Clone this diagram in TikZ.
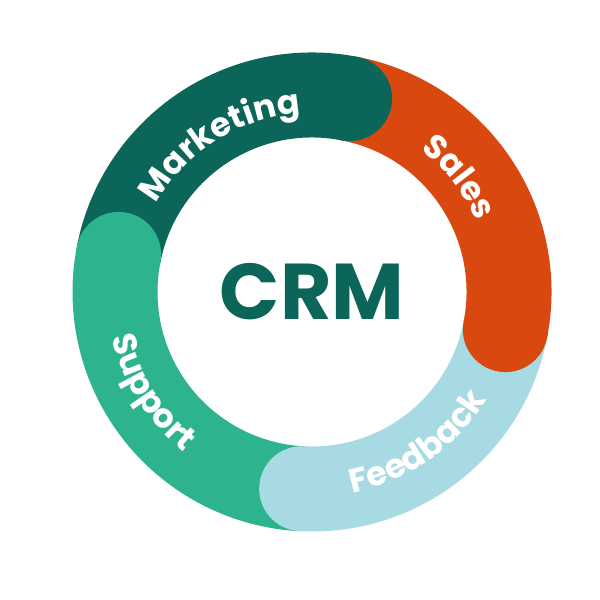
\documentclass[tikz,border=0pt]{standalone}
\usepackage{fontspec}
\setmainfont{Poppins}
\usetikzlibrary{decorations.text}
\definecolor{mktcol}{HTML}{0B6558}
\definecolor{salecol}{HTML}{D9480F}
\definecolor{feedcol}{HTML}{A8DAE3}
\definecolor{suppcol}{HTML}{2EB38F}
\tikzstyle{ringpart}=[line width=1.7cm]
\tikzstyle{ringcap}=[radius=0.85cm]
\tikzstyle{ringlabel}=[decorate,decoration={text along path,text align=center,text color=white}]

\begin{document}
\begin{tikzpicture}
\useasboundingbox (0,0) rectangle (12,12);
\coordinate (C) at (6.24,6.16);

\draw[ringpart,mktcol] ([shift={(169:3.94)}]C) arc (169:79:3.94);
\draw[ringpart,salecol] ([shift={(79:3.94)}]C) arc (79:-11:3.94);
\draw[ringpart,feedcol] ([shift={(-11:3.94)}]C) arc (-11:-93:3.94);
\draw[ringpart,suppcol] ([shift={(-93:3.94)}]C) arc (-93:-191:3.94);

\fill[mktcol] ([shift={(79:3.94)}]C) circle[ringcap];
\fill[salecol] ([shift={(-11:3.94)}]C) circle[ringcap];
\fill[feedcol] ([shift={(-93:3.94)}]C) circle[ringcap];
\fill[suppcol] ([shift={(169:3.94)}]C) circle[ringcap];

\path[ringlabel,decoration={text={|\fontsize{19}{19}\bfseries|Marketing}}]
 ([shift={(162:3.58)}]C) arc (162:82:3.58);
\path[ringlabel,decoration={text={|\fontsize{19}{19}\bfseries|Sales}}]
 ([shift={(78:3.58)}]C) arc (78:-2:3.58);
\path[ringlabel,decoration={text={|\fontsize{19}{19}\bfseries|Feedback}}]
 ([shift={(-95:4.1)}]C) arc (-95:-15:4.1);
\path[ringlabel,decoration={text={|\fontsize{19}{19}\bfseries|Support}}]
 ([shift={(172:4.1)}]C) arc (172:252:4.1);

\node[text=mktcol,font=\fontsize{45}{45}\bfseries] (CRM) at (C) {CRM};
\end{tikzpicture}
\end{document}
